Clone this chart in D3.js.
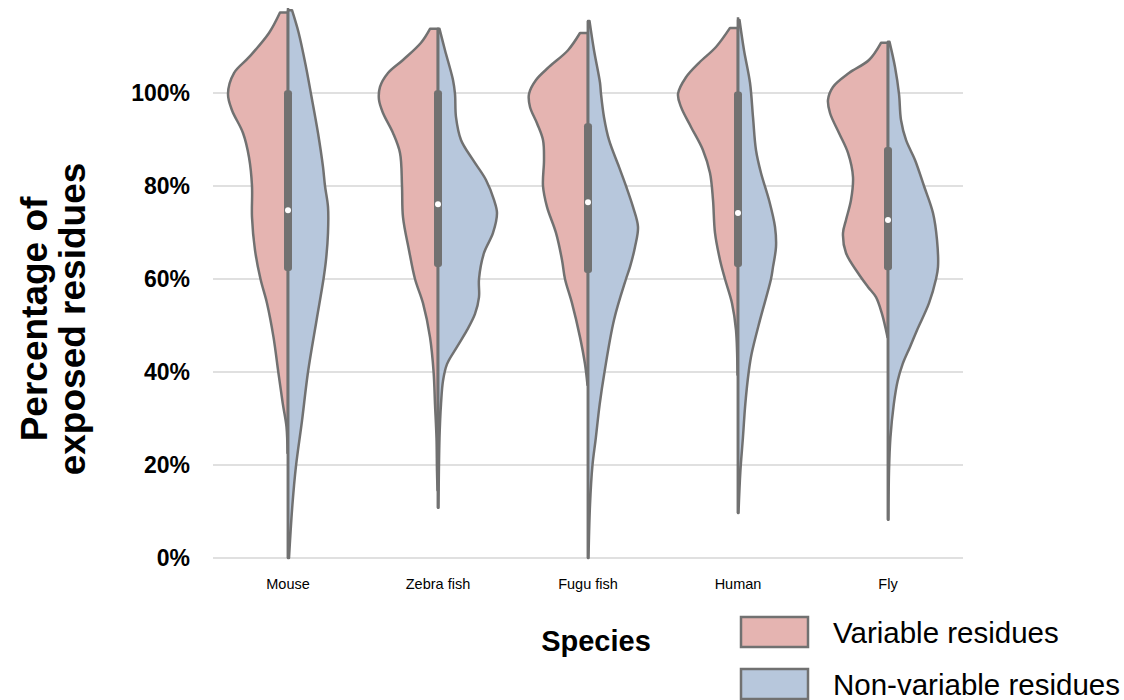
<!DOCTYPE html>
<html>
<head>
<meta charset="utf-8">
<title>Exposed residues</title>
<style>
  body { margin: 0; background: #fff; }
  svg { display: block; font-family: "Liberation Sans", Arial, sans-serif; }
</style>
</head>
<body>
<svg width="1124" height="700"></svg>
<script src="https://d3js.org/d3.v7.min.js"></script>
<script>

var species = ["Mouse", "Zebra fish", "Fugu fish", "Human", "Fly"];
var groups = ["Variable residues", "Non-variable residues"];
var yTicks = [0, 20, 40, 60, 80, 100];

// density profiles: [percentage, density]
var variableDensity = [
  [[117.3,0.8],[112.9,1.9],[107.7,3.9],[104.3,5.4],[99.8,6.0],[96.3,5.6],[91.4,4.5],[86.2,3.9],[80,3.6],[73.3,3.6],[66.2,3.3],[60,2.75],[54.8,2.1],[47.5,1.45],[40,0.97],[33.3,0.53],[28.2,0.15],[22.6,0.05]],
  [[113.8,0.8],[110.8,1.7],[107.1,3.5],[104.3,5.0],[101.3,5.8],[98.5,5.9],[95.7,5.5],[91.4,4.5],[87.1,3.8],[80,3.6],[73.3,3.5],[66.2,2.9],[60,2.3],[54.8,1.5],[47.5,0.8],[40,0.44],[33.1,0.3],[25.8,0.15],[18.7,0.1],[14.6,0.05]],
  [[112.9,0.8],[109.2,2.0],[105.6,3.9],[102.8,5.2],[99.8,5.9],[97,5.8],[93.5,5.1],[89.9,4.5],[85.6,4.4],[80,4.5],[75.5,4.1],[69.9,3.2],[64.1,2.6],[60,2.3],[54.8,1.6],[47.5,0.8],[41.7,0.3],[37.2,0.05]],
  [[114,0.8],[109.9,2.2],[106.5,3.9],[103.4,5.2],[99.8,6.0],[97,5.7],[92.7,4.7],[87.7,3.5],[82.8,2.8],[77,2.5],[69.9,2.3],[64.1,1.8],[60,1.3],[54.8,0.6],[49,0.2],[39.4,0.05]],
  [[110.8,0.7],[107.1,1.9],[104.3,3.9],[101.3,5.5],[98.5,6.0],[95.7,5.8],[91.4,4.9],[87.1,4.0],[81.9,3.5],[77,3.7],[72.7,4.2],[69.9,4.5],[65.6,4.2],[61.3,3.0],[58.3,2.0],[56.1,1.2],[52.5,0.6],[49,0.2],[47.5,0.05]]
];

var nonVariableDensity = [
  [[117.8,0.4],[112.9,1.07],[105.6,1.8],[99.8,2.3],[91.4,3.0],[84.1,3.5],[80,3.7],[75.5,4.0],[69.9,4.0],[64.1,3.8],[60,3.55],[51.2,2.86],[40,2.0],[29.5,1.4],[19.8,0.8],[11.4,0.44],[0,0.1]],
  [[113.8,0.15],[109.2,0.7],[102.8,1.5],[99.8,1.7],[94.8,1.8],[89.9,2.3],[85.6,3.5],[81.3,4.8],[77,5.6],[74.2,5.9],[69.9,5.5],[65.6,4.6],[60,4.1],[56.1,4.1],[52.5,3.7],[49,2.9],[45.4,1.9],[41.7,0.9],[38.1,0.5],[33.1,0.3],[25.8,0.15],[10.8,0.05]],
  [[115.5,0.15],[109.2,0.6],[102.2,1.2],[99.8,1.3],[94.8,1.6],[89.9,2.1],[84.1,3.1],[80,3.8],[75.5,4.5],[71.2,5.0],[66.9,4.7],[62.6,4.2],[60,3.8],[51.2,2.6],[40,1.65],[33.1,1.17],[25.8,0.78],[19.8,0.44],[11.4,0.2],[0,0.05]],
  [[115.7,0.15],[109.2,0.6],[102.2,1.2],[94.8,1.5],[87.7,1.8],[82.8,2.3],[77,3.1],[71.2,3.7],[66.9,3.8],[62.6,3.5],[60,3.3],[51.2,2.2],[43.9,1.36],[40,1.07],[33.1,0.73],[25.8,0.49],[18.7,0.24],[9.7,0.05]],
  [[111,0.15],[105.6,0.7],[99.8,1.1],[94.2,1.3],[89.9,1.8],[85.6,2.7],[80,3.6],[74.2,4.5],[68.4,4.9],[62.6,5.0],[60,4.8],[54.8,4.1],[49,2.9],[45.4,2.2],[41.7,1.46],[38.1,0.97],[33.1,0.58],[25.8,0.24],[18.7,0.1],[8.2,0.05]]
];

var q1 = [61.7, 62.6, 61.3, 62.6, 61.9];
var medians = [74.8, 76.1, 76.5, 74.2, 72.7];
var q3 = [100.6, 100.6, 93.5, 100.3, 88.4];
var whiskerLow = [0, 10.8, 0, 9.7, 8.2];
var whiskerHigh = [118.3, 113.8, 115.5, 116.3, 111];

var colors = ["#e5b4b1", "#b7c7dc"];
var edge = "#717171";

var svg = d3.select("svg");

var x = d3.scaleBand().domain(species).range([213, 963]);
var y = d3.scaleLinear().domain([0, 100]).range([558, 93]);

var maxDens = d3.max(variableDensity.concat(nonVariableDensity), function(p) {
  return d3.max(p, function(d) { return d[1]; });
});
var w = d3.scaleLinear().domain([0, maxDens]).range([0, x.bandwidth() * 0.4]);

// grid
svg.append("g").selectAll("line")
  .data(yTicks).enter().append("line")
  .attr("x1", 213).attr("x2", 963)
  .attr("y1", function(d) { return y(d); })
  .attr("y2", function(d) { return y(d); })
  .style("stroke", "#d6d6d6").style("stroke-width", 1.5);

// y tick labels
svg.append("g").selectAll("text")
  .data(yTicks).enter().append("text")
  .attr("x", 190)
  .attr("y", function(d) { return y(d); })
  .attr("dy", "0.36em")
  .attr("text-anchor", "end")
  .style("font-weight", "bold").style("font-size", "23px")
  .text(function(d) { return d + "%"; });

// x tick labels
svg.append("g").selectAll("text")
  .data(species).enter().append("text")
  .attr("x", function(d) { return x(d) + x.bandwidth() / 2; })
  .attr("y", 589)
  .attr("text-anchor", "middle")
  .style("font-size", "14.5px")
  .text(function(d) { return d; });

// violins
function half(i, dens, side) {
  var cx = x(species[i]) + x.bandwidth() / 2;
  var area = d3.area()
    .curve(d3.curveCatmullRom.alpha(0.5))
    .y(function(d) { return y(d[0]); })
    .x0(cx)
    .x1(function(d) { return cx + side * w(d[1]); });
  return area(dens);
}

var vg = svg.append("g");
species.forEach(function(s, i) {
  var cx = x(s) + x.bandwidth() / 2;
  vg.append("path").attr("d", half(i, variableDensity[i], -1))
    .style("fill", colors[0]).style("stroke", edge).style("stroke-width", 2.5).style("stroke-linejoin", "round");
  vg.append("path").attr("d", half(i, nonVariableDensity[i], 1))
    .style("fill", colors[1]).style("stroke", edge).style("stroke-width", 2.5).style("stroke-linejoin", "round");

  vg.append("line")
    .attr("x1", cx).attr("x2", cx)
    .attr("y1", y(whiskerLow[i])).attr("y2", y(whiskerHigh[i]))
    .style("stroke", edge).style("stroke-width", 2.5);
  vg.append("rect")
    .attr("x", cx - 4).attr("width", 8)
    .attr("y", y(q3[i])).attr("height", y(q1[i]) - y(q3[i]))
    .attr("rx", 3)
    .style("fill", edge);
  vg.append("circle")
    .attr("cx", cx).attr("cy", y(medians[i])).attr("r", 3)
    .style("fill", "#fff");
});

// axis titles
var yt = svg.append("text")
  .attr("transform", "translate(0,319) rotate(-90)")
  .attr("text-anchor", "middle")
  .style("font-weight", "bold").style("font-size", "37px");
yt.append("tspan").attr("x", 0).attr("y", 47).text("Percentage of");
yt.append("tspan").attr("x", 0).attr("y", 85).text("exposed residues");

svg.append("text")
  .attr("x", 596).attr("y", 651)
  .attr("text-anchor", "middle")
  .style("font-weight", "bold").style("font-size", "29px")
  .text("Species");

// legend
var lg = svg.append("g").selectAll("g")
  .data(groups).enter().append("g")
  .attr("transform", function(d, i) { return "translate(741," + (617 + i * 52) + ")"; });
lg.append("rect")
  .attr("width", 67).attr("height", 30)
  .style("fill", function(d, i) { return colors[i]; })
  .style("stroke", edge).style("stroke-width", 2.5);
lg.append("text")
  .attr("x", 92).attr("y", 26)
  .style("font-size", "29.5px")
  .text(function(d) { return d; });

</script>
</body>
</html>
